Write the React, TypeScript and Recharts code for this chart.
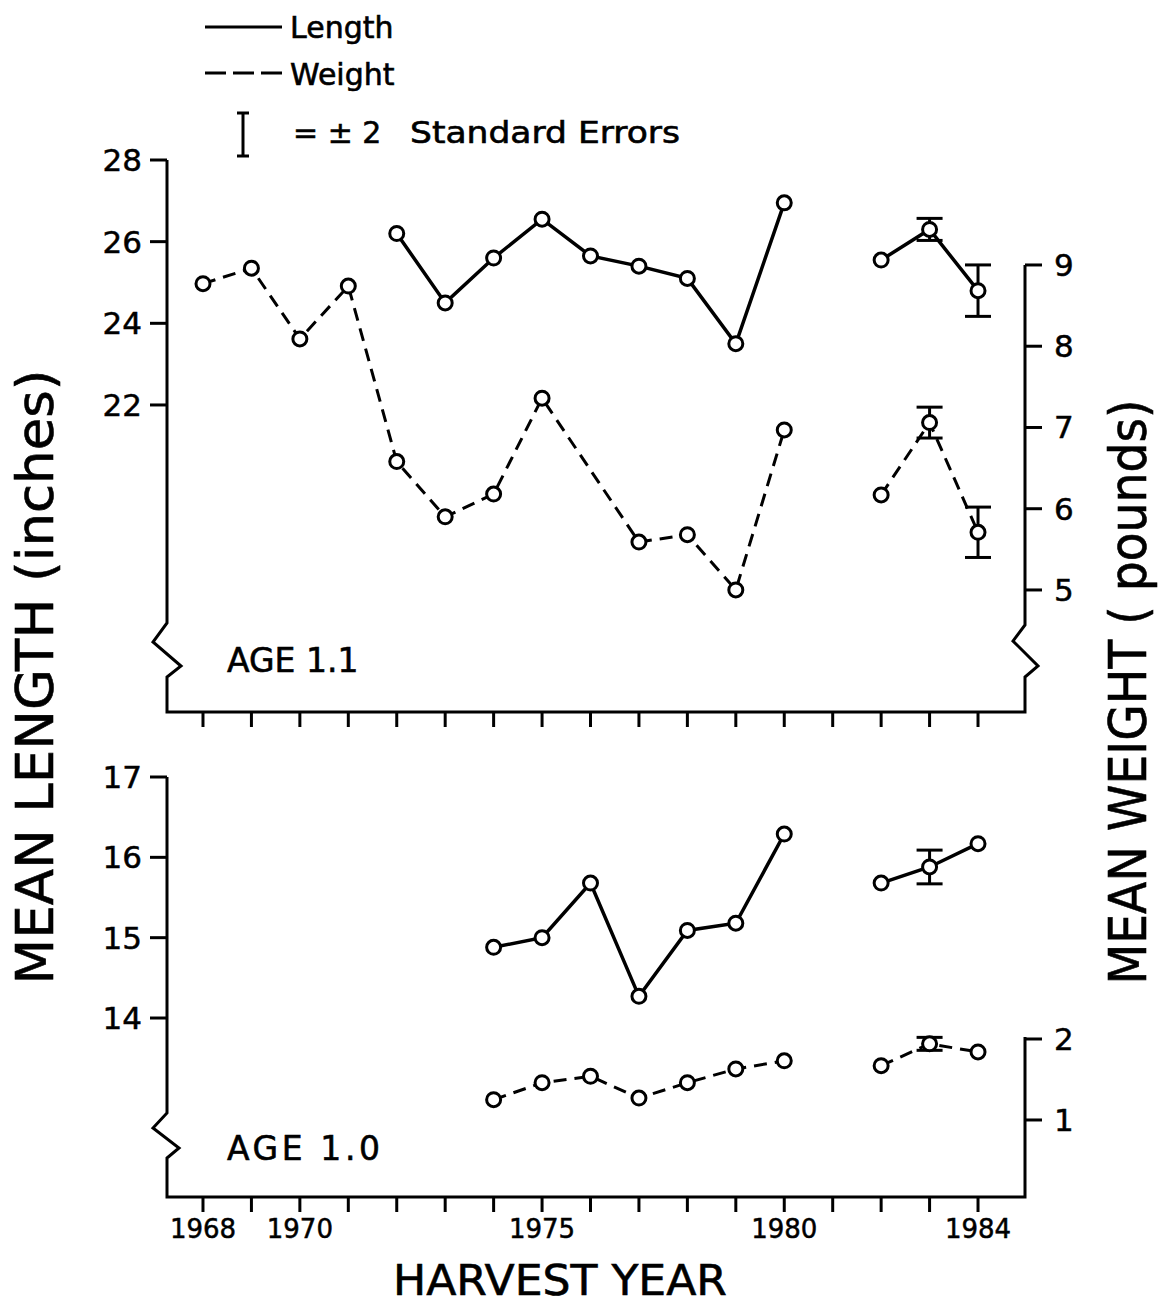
import React from 'react';
import { LineChart, Line, XAxis, YAxis, ErrorBar } from 'recharts';

// ---- data ----
const years = [1968, 1969, 1970, 1971, 1972, 1973, 1974, 1975, 1976, 1977, 1978, 1979, 1980, 1981, 1982, 1983, 1984];
const gapYear = 1981; // no sampling, lines break here

// Age 1.1
const length11 = [null, null, null, null, 26.2, 24.5, 25.6, 26.55, 25.65, 25.4, 25.1, 23.5, 26.95, null, 25.55, 26.3, 24.8];
const weight11 = [8.77, 8.96, 8.09, 8.74, 6.58, 5.9, 6.18, 7.36, null, 5.59, 5.68, 5.0, 6.97, null, 6.17, 7.06, 5.71];
const length11Err = [null, null, null, null, null, null, null, null, null, null, null, null, null, null, null, 0.27, 0.63];
const weight11Err = [null, null, null, null, null, null, null, null, null, null, null, null, null, null, null, 0.19, 0.31];

// Age 1.0
const length10 = [null, null, null, null, null, null, 14.88, 15.0, 15.68, 14.27, 15.09, 15.18, 16.29, null, 15.68, 15.88, 16.17];
const weight10 = [null, null, null, null, null, null, 1.25, 1.46, 1.54, 1.27, 1.46, 1.63, 1.73, null, 1.67, 1.94, 1.84];
const length10Err = [null, null, null, null, null, null, null, null, null, null, null, null, null, null, null, 0.21, null];
const weight10Err = [null, null, null, null, null, null, null, null, null, null, null, null, null, null, null, 0.08, null];

// tick labels
const xLabelYears = [1968, 1970, 1975, 1980, 1984];
const lenTicks11 = [22, 24, 26, 28];
const wtTicks11 = [5, 6, 7, 8, 9];
const lenTicks10 = [14, 15, 16, 17];
const wtTicks10 = [1, 2];

// ---- helpers to build per-segment tables ----
type Pt = { year: number; v: number; err?: number };
function segment(values: (number | null)[], errs: (number | null)[], before: boolean): Pt[] {
  const out: Pt[] = [];
  years.forEach((y, i) => {
    const v = values[i];
    if (v == null) return;
    if (before ? y < gapYear : y > gapYear) {
      const p: Pt = { year: y, v };
      if (errs[i] != null) p.err = errs[i] as number;
      out.push(p);
    }
  });
  return out;
}

const FONT = 'DejaVu Sans';
const W = 1158;
const H = 1307;
const X_DOMAIN: [number, number] = [1967.257, 1984.97];

const renderDot = (p: any) => {
  if (p.cx == null || p.cy == null) return <g key={p.key} />;
  return <circle key={p.key} cx={p.cx} cy={p.cy} r={7} fill="#fff" stroke="#000" strokeWidth={3} />;
};

const tickText = { fill: '#000', fontSize: 31, fontFamily: FONT, stroke: '#000', strokeWidth: 0.5 };

function Panel(props: {
  top: number; bottom: number; len: (number | null)[]; wt: (number | null)[];
  lenErr: (number | null)[]; wtErr: (number | null)[];
  lenDomain: [number, number]; wtDomain: [number, number];
  lenTicks: number[]; wtTicks: number[]; showXLabels: boolean;
}) {
  const series = [
    { key: 'lenA', data: segment(props.len, props.lenErr, true), axis: 'len', dash: undefined, sw: 3.5 },
    { key: 'lenB', data: segment(props.len, props.lenErr, false), axis: 'len', dash: undefined, sw: 3.5 },
    { key: 'wtA', data: segment(props.wt, props.wtErr, true), axis: 'wt', dash: '13 8', sw: 3 },
    { key: 'wtB', data: segment(props.wt, props.wtErr, false), axis: 'wt', dash: '13 8', sw: 3 },
  ];
  return (
    <div style={{ position: 'absolute', left: 0, top: 0 }}>
      <LineChart width={W} height={H}
        margin={{ top: props.top, bottom: H - props.bottom - 30, left: 167 - 60, right: W - 1025 - 60 }}>
        <XAxis type="number" dataKey="year" domain={X_DOMAIN} allowDataOverflow ticks={years} interval={0}
          axisLine={false} tickSize={15} tickMargin={8} height={30}
          tick={{ ...tickText, fontSize: 26 }}
          tickFormatter={(v: number) => (props.showXLabels && xLabelYears.includes(v) ? String(v) : '')}
          tickLine={{ stroke: '#000', strokeWidth: 3 }} />
        <YAxis yAxisId="len" orientation="left" width={60} domain={props.lenDomain} allowDataOverflow
          ticks={props.lenTicks} interval={0} axisLine={false} tickSize={17} tickMargin={8}
          tick={tickText} tickLine={{ stroke: '#000', strokeWidth: 3 }} />
        <YAxis yAxisId="wt" orientation="right" width={60} domain={props.wtDomain} allowDataOverflow
          ticks={props.wtTicks} interval={0} axisLine={false} tickSize={17} tickMargin={12}
          tick={tickText} tickLine={{ stroke: '#000', strokeWidth: 3 }} />
        {series.map((s) => (
          <Line key={s.key} data={s.data} yAxisId={s.axis} dataKey="v" type="linear"
            stroke="#000" strokeWidth={s.sw} strokeDasharray={s.dash}
            dot={renderDot} activeDot={false} isAnimationActive={false} connectNulls>
            <ErrorBar dataKey="err" direction="y" width={13} stroke="#000" strokeWidth={3} />
          </Line>
        ))}
      </LineChart>
    </div>
  );
}

function Overlay() {
  const frame = { fill: 'none', stroke: '#000', strokeWidth: 3, strokeLinejoin: 'miter' as const };
  const txt = { stroke: '#000', strokeWidth: 0.6 };
  return (
    <svg width={W} height={H} style={{ position: 'absolute', left: 0, top: 0, pointerEvents: 'none' }}
      fontFamily={FONT}>
      {/* axis frames with breaks */}
      <path d="M167,160 L167,623 L153,642 L181,666 L167,677 L167,712 L1025,712 L1025,677 L1038,666 L1013,641 L1025,625 L1025,265" {...frame} />
      <path d="M167,777 L167,1113 L153,1128 L179,1148 L167,1158 L167,1197 L1025,1197 L1025,1037" {...frame} />

      {/* legend */}
      <line x1={205} y1={27} x2={282} y2={27} stroke="#000" strokeWidth={3} />
      <text x={290} y={38} fontSize={30} {...txt}>Length</text>
      <line x1={205} y1={73} x2={282} y2={73} stroke="#000" strokeWidth={3} strokeDasharray="21 7" />
      <text x={290} y={85} fontSize={30} {...txt}>Weight</text>
      <line x1={243} y1={113} x2={243} y2={156} stroke="#000" strokeWidth={3} />
      <line x1={237} y1={113} x2={249} y2={113} stroke="#000" strokeWidth={3} />
      <line x1={237} y1={156} x2={249} y2={156} stroke="#000" strokeWidth={3} />
      <text x={293} y={143} fontSize={30} {...txt}>= ± 2</text>
      <text x={410} y={143} fontSize={30} textLength={270} lengthAdjust="spacingAndGlyphs" {...txt}>Standard Errors</text>

      {/* panel labels */}
      <text x={227} y={672} fontSize={33} {...txt}>AGE 1.1</text>
      <text x={227} y={1160} fontSize={33} textLength={153} lengthAdjust="spacing" {...txt}>AGE 1.0</text>

      {/* axis titles */}
      <text transform="translate(53,677) rotate(-90)" textAnchor="middle" fontSize={52}
        textLength={615} lengthAdjust="spacingAndGlyphs" {...txt}>MEAN  LENGTH  (inches)</text>
      <text transform="translate(1146,692) rotate(-90)" textAnchor="middle" fontSize={52}
        textLength={585} lengthAdjust="spacingAndGlyphs" {...txt}>MEAN  WEIGHT ( pounds)</text>
      <text x={560} y={1295} textAnchor="middle" fontSize={42} textLength={334}
        lengthAdjust="spacingAndGlyphs" {...txt}>HARVEST  YEAR</text>
    </svg>
  );
}

export default function App() {
  return (
    <div style={{ position: 'absolute', left: 0, top: 0, width: W, height: H, background: '#fff', fontFamily: FONT }}>
      <Panel top={160} bottom={712} len={length11} wt={weight11} lenErr={length11Err} wtErr={weight11Err}
        lenDomain={[14.48, 28]} wtDomain={[3.498, 10.292]} lenTicks={lenTicks11} wtTicks={wtTicks11} showXLabels={false} />
      <Panel top={777} bottom={1197} len={length10} wt={weight10} lenErr={length10Err} wtErr={weight10Err}
        lenDomain={[11.772, 17]} wtDomain={[0.049, 5.235]} lenTicks={lenTicks10} wtTicks={wtTicks10} showXLabels={true} />
      <Overlay />
    </div>
  );
}
